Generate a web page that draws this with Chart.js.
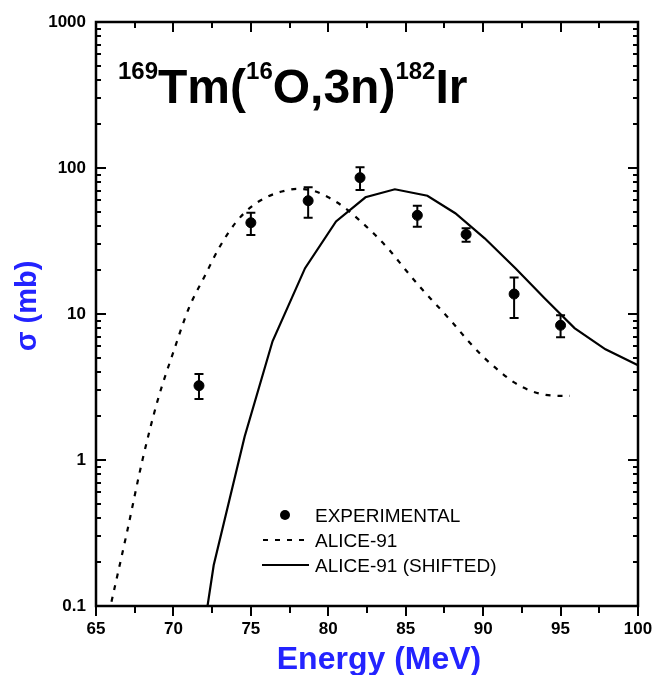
<!DOCTYPE html>
<html>
<head>
<meta charset="utf-8">
<script src="https://cdn.jsdelivr.net/npm/chart.js@4.4.1/dist/chart.umd.min.js"></script>
<style>
  html, body { margin: 0; padding: 0; background: #fff; }
  #wrap { width: 656px; height: 675px; }
</style>
</head>
<body>
<div id="wrap"><canvas id="c" width="656" height="675"></canvas></div>
<script>
// Dati sperimentali (energia in MeV, sezione d'urto in mb)
const expEnergy = [71.65, 75.0, 78.7, 82.05, 85.75, 88.9, 92.0, 95.0];
const expSigma = [3.23, 42.2, 59.7, 85.9, 47.4, 35.1, 13.7, 8.37];
const expLow = [2.62, 34.8, 45.7, 70.7, 39.6, 31.3, 9.4, 6.92];
const expHigh = [3.88, 49.4, 73.8, 101, 55.2, 38.6, 17.8, 9.8];

// ALICE-91 (curva tratteggiata)
const aliceEnergy = [66, 67, 68, 69, 70, 71, 72, 73, 74, 75, 76, 77, 78, 79, 80, 81, 82, 83, 84, 85, 86, 87, 88, 89, 90, 91, 92, 93, 94, 95, 95.6];
const aliceSigma = [0.107, 0.32, 1.0, 2.6, 5.5, 11, 18, 29, 42, 54, 63, 69, 72, 70, 63, 54, 44, 35, 27, 20, 15, 11.5, 8.8, 6.6, 5.1, 4.1, 3.4, 3.0, 2.8, 2.75, 2.75];

// ALICE-91 spostata (linea continua)
const shiftEnergy = [70.6, 72.6, 74.6, 76.4, 78.5, 80.5, 82.4, 84.3, 86.4, 88.2, 90.1, 92.1, 94.0, 95.9, 97.9, 100];
const shiftSigma = [0.0076, 0.19, 1.45, 6.5, 20.6, 43, 63, 71.5, 64.6, 49, 33, 20.5, 12.7, 8.0, 5.73, 4.45];

const xTicks = [65, 70, 75, 80, 85, 90, 95, 100];
const yTicks = [0.1, 1, 10, 100, 1000];

const FONT = "'Liberation Sans', Arial, Helvetica, sans-serif";
const BLUE = "#2323ff";

function toPoints(xs, ys) {
  return xs.map((x, i) => ({ x: x, y: ys[i] }));
}

// Cornice, tacche, barre d'errore, titoli e legenda
const decorPlugin = {
  id: "decor",
  afterDatasetsDraw(chart) {
    const ctx = chart.ctx;
    const xs = chart.scales.x;
    const ys = chart.scales.y;
    const a = chart.chartArea;

    ctx.save();
    ctx.strokeStyle = "#000";

    // barre d'errore
    ctx.lineWidth = 2;
    expEnergy.forEach((e, i) => {
      const px = xs.getPixelForValue(e);
      const yl = ys.getPixelForValue(expLow[i]);
      const yh = ys.getPixelForValue(expHigh[i]);
      ctx.beginPath();
      ctx.moveTo(px, yl);
      ctx.lineTo(px, yh);
      ctx.moveTo(px - 4.5, yl);
      ctx.lineTo(px + 4.5, yl);
      ctx.moveTo(px - 4.5, yh);
      ctx.lineTo(px + 4.5, yh);
      ctx.stroke();
    });

    // tacche asse x
    ctx.lineWidth = 2;
    ctx.beginPath();
    for (let v = 65; v <= 100; v += 2.5) {
      const px = Math.round(xs.getPixelForValue(v));
      const major = v % 5 === 0;
      ctx.moveTo(px, a.bottom);
      ctx.lineTo(px, a.bottom + (major ? 10 : 7));
      ctx.moveTo(px, a.top);
      ctx.lineTo(px, a.top + (major ? 10 : 6));
    }
    // tacche asse y (log)
    for (let d = 0.1; d < 1000; d *= 10) {
      for (let m = 1; m < 10; m++) {
        const v = d * m;
        const py = Math.round(ys.getPixelForValue(v));
        const len = m === 1 ? 10 : 5;
        ctx.moveTo(a.left, py);
        ctx.lineTo(a.left + len, py);
        ctx.moveTo(a.right, py);
        ctx.lineTo(a.right - len, py);
      }
    }
    ctx.stroke();

    // cornice
    ctx.lineWidth = 2.5;
    ctx.strokeRect(a.left, a.top, a.right - a.left, a.bottom - a.top);

    // titolo della reazione
    ctx.fillStyle = "#000";
    ctx.textBaseline = "alphabetic";
    ctx.textAlign = "left";
    const parts = [
      ["169", true], ["Tm(", false], ["16", true], ["O,3n)", false], ["182", true], ["Ir", false],
    ];
    let tx = 118;
    parts.forEach(([t, sup]) => {
      ctx.font = sup ? `bold 24px ${FONT}` : `bold 48px ${FONT}`;
      ctx.fillText(t, tx, sup ? 79 : 103);
      tx += ctx.measureText(t).width;
    });

    // titoli degli assi
    ctx.fillStyle = BLUE;
    ctx.font = `bold 32px ${FONT}`;
    ctx.textAlign = "center";
    ctx.textBaseline = "middle";
    ctx.fillText("Energy (MeV)", (a.left + a.right) / 2 + 12, 660);

    ctx.save();
    ctx.translate(28, 306);
    ctx.rotate(-Math.PI / 2);
    ctx.font = `bold 29px ${FONT}`;
    ctx.fillText("\u03c3 (mb)", 0, 0);
    ctx.restore();

    // legenda
    ctx.fillStyle = "#000";
    ctx.textAlign = "left";
    ctx.textBaseline = "alphabetic";
    ctx.font = `19px ${FONT}`;
    const ds = chart.data.datasets;
    ctx.beginPath();
    ctx.arc(285, 515, 5, 0, Math.PI * 2);
    ctx.fill();
    ctx.fillText(ds[0].label, 315, 522);

    ctx.lineWidth = 2;
    ctx.setLineDash([5, 7]);
    ctx.beginPath();
    ctx.moveTo(263, 540);
    ctx.lineTo(305, 540);
    ctx.stroke();
    ctx.setLineDash([]);
    ctx.fillText(ds[1].label, 315, 547);

    ctx.beginPath();
    ctx.moveTo(262, 565);
    ctx.lineTo(309, 565);
    ctx.stroke();
    ctx.fillText(ds[2].label, 315, 572);

    ctx.restore();
  },
};

new Chart(document.getElementById("c"), {
  type: "line",
  data: {
    datasets: [
      {
        label: "EXPERIMENTAL",
        data: toPoints(expEnergy, expSigma),
        showLine: false,
        pointRadius: 5,
        pointBackgroundColor: "#000",
        pointBorderColor: "#000",
        borderColor: "#000",
        order: 0,
      },
      {
        label: "ALICE-91",
        data: toPoints(aliceEnergy, aliceSigma),
        borderColor: "#000",
        borderWidth: 2.2,
        borderDash: [5, 7],
        pointRadius: 0,
        cubicInterpolationMode: "monotone",
        order: 1,
      },
      {
        label: "ALICE-91 (SHIFTED)",
        data: toPoints(shiftEnergy, shiftSigma),
        borderColor: "#000",
        borderWidth: 2.2,
        pointRadius: 0,
        tension: 0,
        order: 2,
      },
    ],
  },
  options: {
    responsive: false,
    animation: false,
    layout: { padding: { left: 0, right: 18, top: 22, bottom: 0 } },
    plugins: {
      legend: { display: false },
      tooltip: { enabled: false },
    },
    scales: {
      x: {
        type: "linear",
        min: 65,
        max: 100,
        grid: { display: false, drawTicks: false },
        border: { display: false },
        afterBuildTicks: (scale) => {
          scale.ticks = xTicks.map((v) => ({ value: v }));
        },
        afterFit: (scale) => {
          scale.height = 69;
          scale.paddingLeft = 0;
          scale.paddingRight = 0;
        },
        ticks: {
          padding: 13,
          color: "#000",
          font: { family: FONT, size: 17, weight: "bold" },
          maxRotation: 0,
          callback: (v) => String(v),
        },
      },
      y: {
        type: "logarithmic",
        min: 0.1,
        max: 1000,
        grid: { display: false, drawTicks: false },
        border: { display: false },
        afterBuildTicks: (scale) => {
          scale.ticks = yTicks.map((v) => ({ value: v }));
        },
        afterFit: (scale) => {
          scale.width = 96;
          scale.paddingTop = 0;
          scale.paddingBottom = 0;
        },
        ticks: {
          padding: 10,
          color: "#000",
          font: { family: FONT, size: 17, weight: "bold" },
          callback: (v) => String(v),
        },
      },
    },
  },
  plugins: [decorPlugin],
});
</script>
</body>
</html>
